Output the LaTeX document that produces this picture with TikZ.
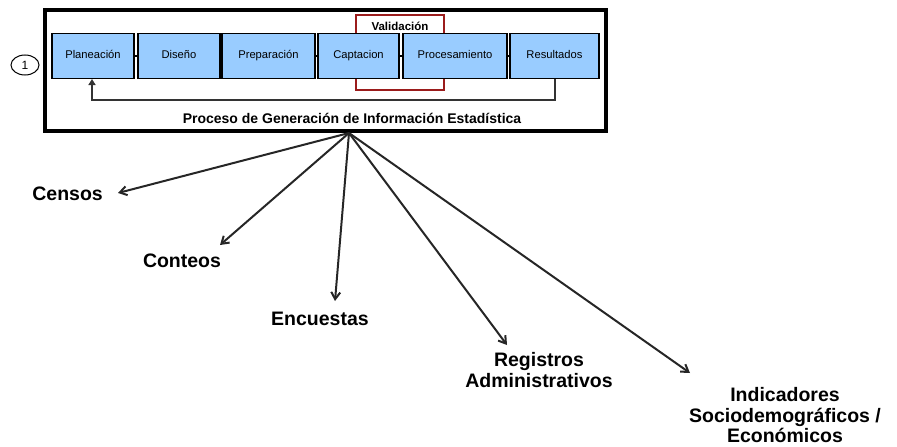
\documentclass[tikz,border=0pt]{standalone}
\usepackage{fontspec}
\setmainfont{Liberation Sans}
\usetikzlibrary{arrows.meta,shapes.geometric}
\definecolor{etapa}{HTML}{99CCFF}
\definecolor{valrojo}{HTML}{9B1C1C}
\tikzset{
  etapabox/.style={draw=black, line width=1.4pt, fill=etapa, minimum height=45pt, inner sep=0pt, text height=8pt, text depth=2.5pt, font=\fontsize{11.2}{13}\selectfont},
  fuente/.style={font=\bfseries\fontsize{19.5}{22}\selectfont, align=center, inner sep=1pt},
  flecha/.style={-{Straight Barb[length=7pt,width=9pt]}, line width=2pt, black!85}
}
\begin{document}
\begin{tikzpicture}[x=1pt, y=-1pt]
\useasboundingbox (0,0) rectangle (897,447);
% Outer frame
\draw[line width=4pt] (44.5,9.5) rectangle (605.5,130.5);
\node[draw, ellipse, line width=1pt, minimum width=28pt, minimum height=20pt, inner sep=0pt, font=\fontsize{12}{14}\selectfont] (uno) at (25,65) {1};
% Validation frame
\draw[valrojo, line width=1.6pt] (356,79) -- (356,15) -- (444,15) -- (444,90) -- (356,90) -- (356,79);
\node[font=\bfseries\fontsize{11.5}{13}\selectfont] (val) at (400,26) {Validación};
% Stages
\node[etapabox, minimum width=82pt] (plan) at (93,56) {Planeación};
\node[etapabox, minimum width=82pt] (dis) at (179,56) {Diseño};
\node[etapabox, minimum width=93pt] (prep) at (268.5,56) {Preparación};
\node[etapabox, minimum width=81pt] (capt) at (358.5,56) {Captacion};
\node[etapabox, minimum width=104pt] (proc) at (455,56) {Procesamiento};
\node[etapabox, minimum width=89pt] (res) at (554.5,56) {Resultados};
\foreach \a/\b in {plan/dis,dis/prep,prep/capt,capt/proc,proc/res}
  \draw[line width=1.6pt] (\a.east) -- (\b.west);
% Feedback
\draw[black!80, line width=1.8pt, -{Triangle[length=6pt,width=7pt]}] (res.south) ++(0.5,0) |- (92,100) -- (92,79);
\node[font=\bfseries\fontsize{14}{16}\selectfont] (titulo) at (352,118) {Proceso de Generación de Información Estadística};
% Sources
\coordinate (hub) at (349,133);
\node[fuente, anchor=east] (censos) at (104,194) {Censos};
\node[fuente] (conteos) at (182,261) {Conteos};
\node[fuente] (encuestas) at (320,319) {Encuestas};
\node[fuente] (registros) at (539,370.5) {Registros\\[-1pt]Administrativos};
\node[fuente] (indic) at (785,415.5) {Indicadores\\[-1.5pt]Sociodemográficos /\\[-1.5pt]Económicos};
\draw[flecha] (hub) -- (118,193);
\draw[flecha] (hub) -- (220,245);
\draw[flecha] (hub) -- (335,301);
\draw[flecha] (hub) -- (507,345);
\draw[flecha] (hub) -- (690,373);
\end{tikzpicture}
\end{document}
